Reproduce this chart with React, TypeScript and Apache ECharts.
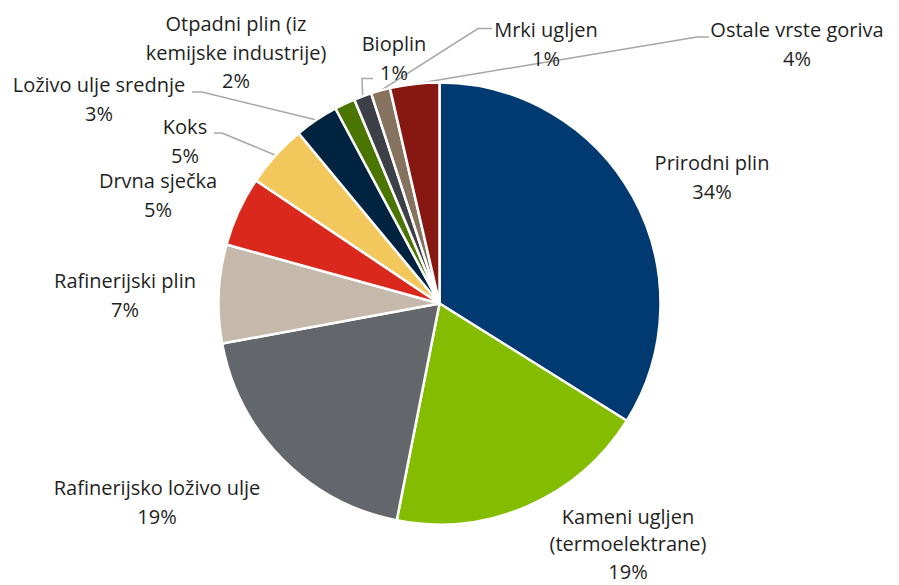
import React, { useEffect, useRef } from "react";
import * as echarts from "echarts";

// ---- data ----
const categories = [
  "Prirodni plin",
  "Kameni ugljen\n(termoelektrane)",
  "Rafinerijsko loživo ulje",
  "Rafinerijski plin",
  "Drvna sječka",
  "Koks",
  "Loživo ulje srednje",
  "Otpadni plin (iz\nkemijske industrije)",
  "Bioplin",
  "Mrki ugljen",
  "Ostale vrste goriva",
];
const shares = [33.9, 19.2, 19.0, 7.2, 5.1, 4.6, 3.2, 1.5, 1.3, 1.4, 3.6];

// ---- styles / layout ----
const colors = [
  "#003A70",
  "#84BD00",
  "#63666A",
  "#C5B9AC",
  "#DA291C",
  "#F2C75C",
  "#00233F",
  "#4A7500",
  "#3D4046",
  "#85735F",
  "#861811",
];
// label block centres
const labelPos: [number, number][] = [
  [712, 177],
  [628, 543.5],
  [157, 502],
  [125, 295],
  [158, 195],
  [185, 141],
  [99, 99],
  [236, 52],
  [394, 58],
  [546, 44],
  [797, 44],
];
const labelLineHeights = [28.5, 27.5, 28.5, 28.5, 28.5, 28.5, 28.5, 28.5, 28.5, 28.5, 28.5];
// leader line elbow + end points (null = no leader line)
const leaderPts: (number[][] | null)[] = [
  null,
  null,
  null,
  null,
  null,
  [[222, 133], [214, 133]],
  [[202, 92], [192, 92]],
  null,
  [[362, 78.5], [373, 78.5]],
  [[478, 28.5], [492, 28.5]],
  [[697, 37], [709, 37]],
];

export default function App() {
  const ref = useRef<HTMLDivElement>(null);
  useEffect(() => {
    document.body.style.margin = "0";
    if (!ref.current) return;
    const chart = echarts.init(ref.current, null, { renderer: "svg" });
    chart.setOption({
      animation: false,
      backgroundColor: "#ffffff",
      series: [
        {
          type: "pie",
          center: [439.5, 303.5],
          radius: 221,
          startAngle: 90,
          clockwise: true,
          avoidLabelOverlap: false,
          itemStyle: { borderColor: "#ffffff", borderWidth: 2.5 },
          emphasis: { disabled: true },
          label: {
            show: true,
            position: "outside",
            fontFamily: "Open Sans",
            fontSize: 20,
            lineHeight: 28.5,
            color: "#1f1f1f",
            align: "center",
            formatter: (p: any) => `${p.name}\n${Math.round(p.percent)}%`,
          },
          labelLine: {
            show: true,
            lineStyle: { color: "#A6A6A6", width: 1.5 },
          },
          labelLayout: (params: any) => {
            const i = params.dataIndex;
            const [x, y] = labelPos[i];
            const res: any = { x, y, align: "center", verticalAlign: "middle" };
            const lp = leaderPts[i];
            if (lp && params.labelLinePoints) {
              res.labelLinePoints = [params.labelLinePoints[0], ...lp];
            }
            return res;
          },
          data: categories.map((name, i) => ({
            name,
            value: shares[i],
            itemStyle: { color: colors[i] },
            label: { lineHeight: labelLineHeights[i] },
            labelLine: { show: leaderPts[i] !== null },
          })),
        },
      ],
    });
    return () => chart.dispose();
  }, []);
  return <div ref={ref} style={{ width: 899, height: 585 }} />;
}
